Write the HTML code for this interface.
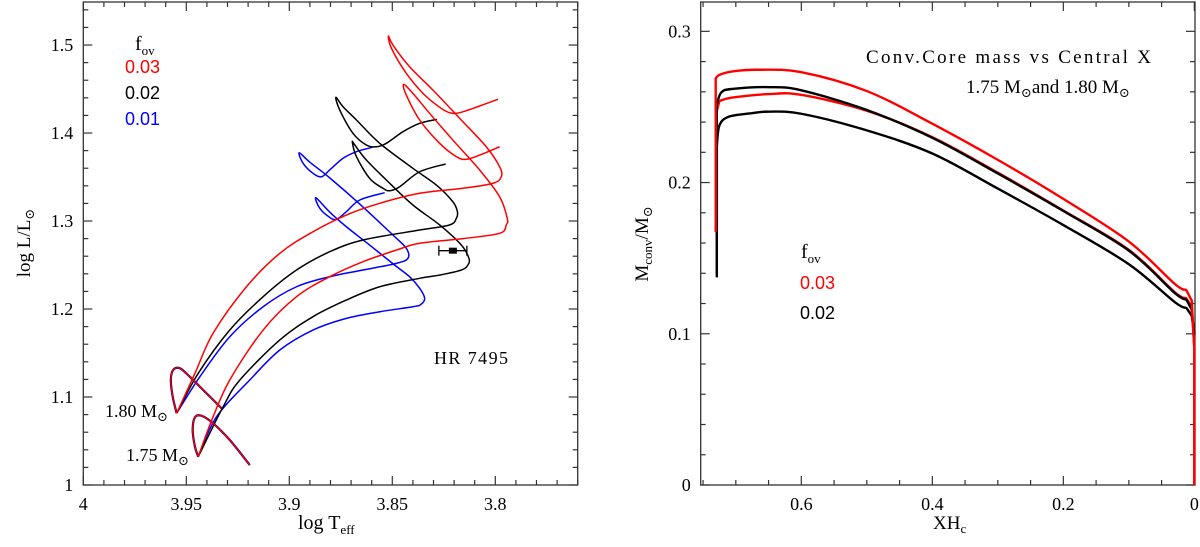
<!DOCTYPE html>
<html><head><meta charset="utf-8">
<style>
html,body{margin:0;padding:0;background:#fff;}
svg{display:block;}
text{font-family:"Liberation Serif","DejaVu Serif",serif;fill:#000;}
.tk{font-size:18px;}
.sans{font-family:"Liberation Sans","DejaVu Sans",sans-serif;}
</style></head>
<body>
<svg id="chart" width="1200" height="547" viewBox="0 0 1200 547" xmlns="http://www.w3.org/2000/svg">
  <g id="left"></g>
  <g id="right"></g>
  <text transform="translate(30,243) rotate(-90)" text-anchor="middle" font-size="19">log  L/L<tspan font-size="13" dy="4">⊙</tspan></text>
  <text x="298" y="529" font-size="20">log  T<tspan font-size="13" dy="5">eff</tspan></text>
  <text x="135" y="50" font-size="20">f<tspan font-size="13" dy="5">ov</tspan></text>
  <text class="sans" x="125" y="73" font-size="18" style="fill:#f00">0.03</text>
  <text class="sans" x="125" y="99" font-size="18">0.02</text>
  <text class="sans" x="125" y="125" font-size="18" style="fill:#00f">0.01</text>
  <text x="434" y="364" font-size="18" textLength="74">HR 7495</text>
  <text x="105" y="417" font-size="18">1.80 M<tspan font-size="13" dy="4">⊙</tspan></text>
  <text x="126" y="461" font-size="18">1.75 M<tspan font-size="13" dy="4">⊙</tspan></text>
  <text transform="translate(648,244) rotate(-90)" text-anchor="middle" font-size="19">M<tspan font-size="13" dy="4">conv</tspan><tspan dy="-4">/M</tspan><tspan font-size="13" dy="4">⊙</tspan></text>
  <text x="933" y="529" font-size="19">XH<tspan font-size="13" dy="4">c</tspan></text>
  <text x="866" y="63" font-size="19" textLength="285" lengthAdjust="spacing">Conv.Core mass vs Central X</text>
  <text x="966" y="93" font-size="19">1.75 M<tspan font-size="13" dy="4">⊙</tspan><tspan dy="-4">and  1.80 M</tspan><tspan font-size="13" dy="4">⊙</tspan></text>
  <text x="801" y="258" font-size="20">f<tspan font-size="13" dy="5">ov</tspan></text>
  <text class="sans" x="800" y="289" font-size="18" style="fill:#f00">0.03</text>
  <text class="sans" x="800" y="319" font-size="18">0.02</text>
</svg>
<script>
// ---------- HR diagram data (logTeff, logL) ----------
const preMS180 = [[3.9329,1.0872],[3.9418,1.1080],[3.9483,1.1231],[3.9531,1.1326],[3.9564,1.1307],[3.9575,1.1193],[3.9566,1.1003],[3.9547,1.0815]];
const preMS175 = [[3.9192,1.0227],[3.9289,1.0511],[3.9370,1.0701],[3.9426,1.0787],[3.9458,1.0769],[3.9469,1.0625],[3.9458,1.0435],[3.9442,1.0322]];
const red180 = [[3.9547,1.0815],[3.9458,1.1269],[3.9370,1.1724],[3.9208,1.2253],[3.9046,1.2633],[3.8885,1.2878],[3.8723,1.3068],[3.8561,1.3201],[3.8367,1.3315],[3.8157,1.3372],[3.8012,1.3428],[3.7971,1.3503],[3.7979,1.3617],[3.8044,1.3844],[3.8173,1.4167],[3.8303,1.4489],[3.8416,1.4753],[3.8497,1.5000],[3.8519,1.5102],[3.8504,1.4962],[3.8432,1.4678],[3.8351,1.4451],[3.8270,1.4292],[3.8222,1.4231],[3.8173,1.4231],[3.8076,1.4307],[3.7987,1.4383]];
const red175 = [[3.9442,1.0322],[3.9376,1.0739],[3.9289,1.1193],[3.9127,1.1761],[3.8965,1.2140],[3.8804,1.2367],[3.8642,1.2538],[3.8480,1.2670],[3.8367,1.2747],[3.8157,1.2800],[3.7979,1.2860],[3.7947,1.2955],[3.7942,1.3031],[3.7979,1.3276],[3.8076,1.3580],[3.8206,1.3920],[3.8319,1.4224],[3.8400,1.4451],[3.8445,1.4553],[3.8432,1.4432],[3.8367,1.4148],[3.8270,1.3883],[3.8189,1.3731],[3.8141,1.3701],[3.8076,1.3750],[3.7979,1.3844]];
const black180 = [[3.9547,1.0815],[3.9442,1.1269],[3.9289,1.1761],[3.9127,1.2140],[3.8965,1.2443],[3.8804,1.2651],[3.8642,1.2784],[3.8367,1.2898],[3.8222,1.2955],[3.8189,1.3031],[3.8184,1.3106],[3.8206,1.3219],[3.8286,1.3409],[3.8400,1.3599],[3.8561,1.3883],[3.8674,1.4148],[3.8739,1.4299],[3.8774,1.4406],[3.8755,1.4261],[3.8691,1.3997],[3.8626,1.3864],[3.8577,1.3844],[3.8529,1.3883],[3.8448,1.4015],[3.8367,1.4110],[3.8283,1.4156]];
const black175 = [[3.9442,1.0322],[3.9321,1.0890],[3.9240,1.1193],[3.9046,1.1648],[3.8885,1.1913],[3.8723,1.2102],[3.8561,1.2253],[3.8367,1.2349],[3.8270,1.2386],[3.8165,1.2443],[3.8133,1.2500],[3.8128,1.2576],[3.8165,1.2727],[3.8270,1.2955],[3.8400,1.3182],[3.8529,1.3466],[3.8626,1.3693],[3.8682,1.3864],[3.8694,1.3898],[3.8674,1.3731],[3.8610,1.3485],[3.8545,1.3372],[3.8513,1.3344],[3.8464,1.3390],[3.8367,1.3560],[3.8241,1.3648]];
const blue180 = [[3.9547,1.0815],[3.9434,1.1231],[3.9289,1.1685],[3.9127,1.2026],[3.8965,1.2253],[3.8804,1.2367],[3.8642,1.2443],[3.8480,1.2519],[3.8424,1.2576],[3.8432,1.2690],[3.8497,1.2841],[3.8658,1.3193],[3.8803,1.3489],[3.8901,1.3670],[3.8952,1.3776],[3.8933,1.3656],[3.8885,1.3542],[3.8844,1.3503],[3.8804,1.3580],[3.8739,1.3713],[3.8674,1.3788],[3.8597,1.3838]];
const blue175 = [[3.9442,1.0322],[3.9353,1.0776],[3.9192,1.1193],[3.9046,1.1534],[3.8885,1.1761],[3.8723,1.1894],[3.8561,1.1969],[3.8400,1.2026],[3.8362,1.2051],[3.8343,1.2122],[3.8367,1.2235],[3.8416,1.2367],[3.8489,1.2500],[3.8610,1.2727],[3.8723,1.2935],[3.8804,1.3102],[3.8871,1.3265],[3.8852,1.3144],[3.8804,1.3042],[3.8771,1.3019],[3.8723,1.3106],[3.8658,1.3239],[3.8537,1.3322]];
const starPoint = [3.8206,1.2663];
const starErrT = 0.0068;
const hrXTicks = [4,3.95,3.9,3.85,3.8];
const hrXTickLabels = ["4","3.95","3.9","3.85","3.8"];
const hrYTicks = [1,1.1,1.2,1.3,1.4,1.5];
const hrYTickLabels = ["1","1.1","1.2","1.3","1.4","1.5"];

// ---------- Core mass data (XHc, Mconv) ----------
const red180core = [[0.7307,0.1673],[0.7307,0.2689],[0.7251,0.2712],[0.7054,0.2735],[0.6655,0.2746],[0.6000,0.2730],[0.5000,0.2605],[0.4000,0.2389],[0.3000,0.2150],[0.2000,0.1892],[0.1000,0.1610],[0.0300,0.1330],[0.0124,0.1290],[0.0040,0.1220],[0,0.09],[0,0]];
const black180core = [[0.729,0.1373],[0.729,0.2516],[0.7222,0.2596],[0.7054,0.2619],[0.6490,0.2631],[0.6000,0.2610],[0.5000,0.2480],[0.4000,0.2296],[0.3000,0.2060],[0.2000,0.1812],[0.1000,0.1550],[0.0300,0.1270],[0.0120,0.1225],[0.0040,0.1160],[0,0.0992]];
const red175core = [[0.7307,0.2446],[0.7251,0.2539],[0.7054,0.2562],[0.6490,0.2585],[0.6000,0.2580],[0.5000,0.2475],[0.4000,0.2300],[0.3000,0.2065],[0.2000,0.1815],[0.1000,0.1555],[0.0300,0.1275],[0.0124,0.1235],[0.0040,0.1177],[0,0.09],[0,0]];
const black175core = [[0.729,0.1400],[0.729,0.2239],[0.7251,0.2377],[0.7110,0.2435],[0.6772,0.2458],[0.6500,0.2469],[0.6000,0.2455],[0.5000,0.2345],[0.4000,0.2192],[0.3000,0.1960],[0.2000,0.1719],[0.1000,0.1460],[0.0300,0.1210],[0.0120,0.1170],[0.0040,0.1120],[0,0.0992]];
const coreXTicks = [0.6,0.4,0.2,0];
const coreXTickLabels = ["0.6","0.4","0.2","0"];
const coreYTicks = [0,0.1,0.2,0.3];
const coreYTickLabels = ["0","0.1","0.2","0.3"];

const NS = "http://www.w3.org/2000/svg";
function mk(tag, attrs, parent){const e=document.createElementNS(NS,tag);for(const k in attrs)e.setAttribute(k,attrs[k]);parent.appendChild(e);return e;}

const L = {x0:83.3,x1:577.7,y0:485,y1:2,tMin:4,tMax:3.76,lMin:1,lMax:1.5489};
function hx(t){return L.x0+(L.tMin-t)/(L.tMin-L.tMax)*(L.x1-L.x0);}
function hy(l){return L.y0-(l-L.lMin)/(L.lMax-L.lMin)*(L.y0-L.y1);}
const R = {x0:700.7,x1:1195,y0:485,y1:2,xMax:0.7536,xMin:-0.001,yMin:0,yMax:0.3194};
function cx(v){return R.x1-(v-R.xMin)/(R.xMax-R.xMin)*(R.x1-R.x0);}
function cy(v){return R.y0-(v-R.yMin)/(R.yMax-R.yMin)*(R.y0-R.y1);}

function smoothSeg(pts){
  let d="";
  for(let i=0;i<pts.length-1;i++){
    const p0=pts[i-1]||pts[i],p1=pts[i],p2=pts[i+1],p3=pts[i+2]||p2;
    const c1=[p1[0]+(p2[0]-p0[0])/6,p1[1]+(p2[1]-p0[1])/6];
    const c2=[p2[0]-(p3[0]-p1[0])/6,p2[1]-(p3[1]-p1[1])/6];
    d+="C"+c1[0].toFixed(2)+","+c1[1].toFixed(2)+" "+c2[0].toFixed(2)+","+c2[1].toFixed(2)+" "+p2[0].toFixed(2)+","+p2[1].toFixed(2);
  }
  return d;
}
function smoothPath(pts){return "M"+pts[0][0].toFixed(2)+","+pts[0][1].toFixed(2)+smoothSeg(pts);}
function frame(g,x0,x1,y0,y1,name){
  const r=mk("rect",{x:x0,y:y1,width:x1-x0,height:y0-y1,fill:"none",stroke:"#333","stroke-width":1.3},g);
  
  
}
function tick(g,x1,y1,x2,y2){mk("line",{x1:x1,y1:y1,x2:x2,y2:y2,stroke:"#333","stroke-width":1.2},g);}

// ---------- left panel ----------
const gl=document.getElementById("left");
frame(gl,L.x0,L.x1,L.y0,L.y1,"hr-plot-frame");
for(let k=0;k<=24;k++){
  const t=4-k*0.01; const x=hx(t); const len=(k%5===0)?9:5;
  tick(gl,x,L.y0,x,L.y0-len); tick(gl,x,L.y1,x,L.y1+len);
}
for(let k=0;k<=27;k++){
  const l=1+k*0.02; const y=hy(l); const len=(k%5===0)?9:5;
  tick(gl,L.x0,y,L.x0+len,y); tick(gl,L.x1,y,L.x1-len,y);
}
hrXTicks.forEach((t,i)=>{
  const e=mk("text",{x:hx(t),y:510,"text-anchor":"middle","class":"tk"},gl);
  e.textContent=hrXTickLabels[i];
  
  
});
hrYTicks.forEach((l,i)=>{
  const e=mk("text",{x:L.x0-10,y:hy(l)+6,"text-anchor":"end","class":"tk"},gl);
  e.textContent=hrYTickLabels[i];
  
  
});
function track(g,data,color,name,w){
  const p=mk("path",{d:smoothPath(data.map(d=>[hx(d[0]),hy(d[1])])),fill:"none",stroke:color,"stroke-width":w,"stroke-linejoin":"round"},g);
  
  
}
track(gl,preMS180,"#00f","premain-sequence-180-blue",2.2);
track(gl,preMS175,"#00f","premain-sequence-175-blue",2.2);
track(gl,preMS180,"#000","premain-sequence-180-black",1.8);
track(gl,preMS175,"#000","premain-sequence-175-black",1.8);
track(gl,blue180,"#00f","track-180-fov001",1.5);
track(gl,blue175,"#00f","track-175-fov001",1.5);
track(gl,black180,"#000","track-180-fov002",1.5);
track(gl,black175,"#000","track-175-fov002",1.5);
track(gl,red180,"#f00","track-180-fov003",1.5);
track(gl,red175,"#f00","track-175-fov003",1.5);
track(gl,preMS180,"#f00","premain-sequence-180-red",1.3);
track(gl,preMS175,"#f00","premain-sequence-175-red",1.3);
const sx=hx(starPoint[0]), sy=hy(starPoint[1]);
const xa=hx(starPoint[0]+starErrT), xb=hx(starPoint[0]-starErrT);
const eb=mk("g",{},gl);


mk("line",{x1:xa,y1:sy,x2:xb,y2:sy,stroke:"#000","stroke-width":1.3},eb);
mk("line",{x1:xa,y1:sy-5,x2:xa,y2:sy+5,stroke:"#000","stroke-width":1.3},eb);
mk("line",{x1:xb,y1:sy-5,x2:xb,y2:sy+5,stroke:"#000","stroke-width":1.3},eb);
const sp=mk("rect",{x:sx-4,y:sy-3,width:8,height:6,fill:"#000"},eb);



// ---------- right panel ----------
const gr=document.getElementById("right");
frame(gr,R.x0,R.x1,R.y0,R.y1,"core-plot-frame");
for(let k=0;k<=15;k++){
  const v=k*0.05; const x=cx(v); if(x<R.x0) continue; const len=(k%4===0)?9:5;
  tick(gr,x,R.y0,x,R.y0-len); tick(gr,x,R.y1,x,R.y1+len);
}
for(let k=0;k<=15;k++){
  const v=k*0.02; const y=cy(v); const len=(k%5===0)?9:5;
  tick(gr,R.x0,y,R.x0+len,y); tick(gr,R.x1,y,R.x1-len,y);
}
coreXTicks.forEach((v,i)=>{
  const e=mk("text",{x:cx(v),y:510,"text-anchor":"middle","class":"tk"},gr);
  e.textContent=coreXTickLabels[i];
  
  
});
coreYTicks.forEach((v,i)=>{
  const e=mk("text",{x:R.x0-10,y:cy(v)+6,"text-anchor":"end","class":"tk"},gr);
  e.textContent=coreYTickLabels[i];
  
  
});
function line(g,data,color,name){
  const pts=data.map(d=>[cx(d[0]),cy(d[1])]);
  // linear vertical start, smooth body, linear tail near XH=0
  let tailStart=pts.length-1;
  while(tailStart>2 && data[tailStart-1][0]<0.02) tailStart--;
  const body=pts.slice(1,tailStart+1);
  let d="M"+pts[0][0].toFixed(2)+","+pts[0][1].toFixed(2)+"L"+pts[1][0].toFixed(2)+","+pts[1][1].toFixed(2)+smoothSeg(body);
  for(let i=tailStart+1;i<pts.length;i++) d+="L"+pts[i][0].toFixed(2)+","+pts[i][1].toFixed(2);
  const p=mk("path",{d:d,fill:"none",stroke:color,"stroke-width":2.4,"stroke-linejoin":"round"},g);
  
  
}
line(gr,black175core,"#000","core-175-fov002");
line(gr,red175core,"#f00","core-175-fov003");
line(gr,black180core,"#000","core-180-fov002");
line(gr,red180core,"#f00","core-180-fov003");
</script>
</body></html>
